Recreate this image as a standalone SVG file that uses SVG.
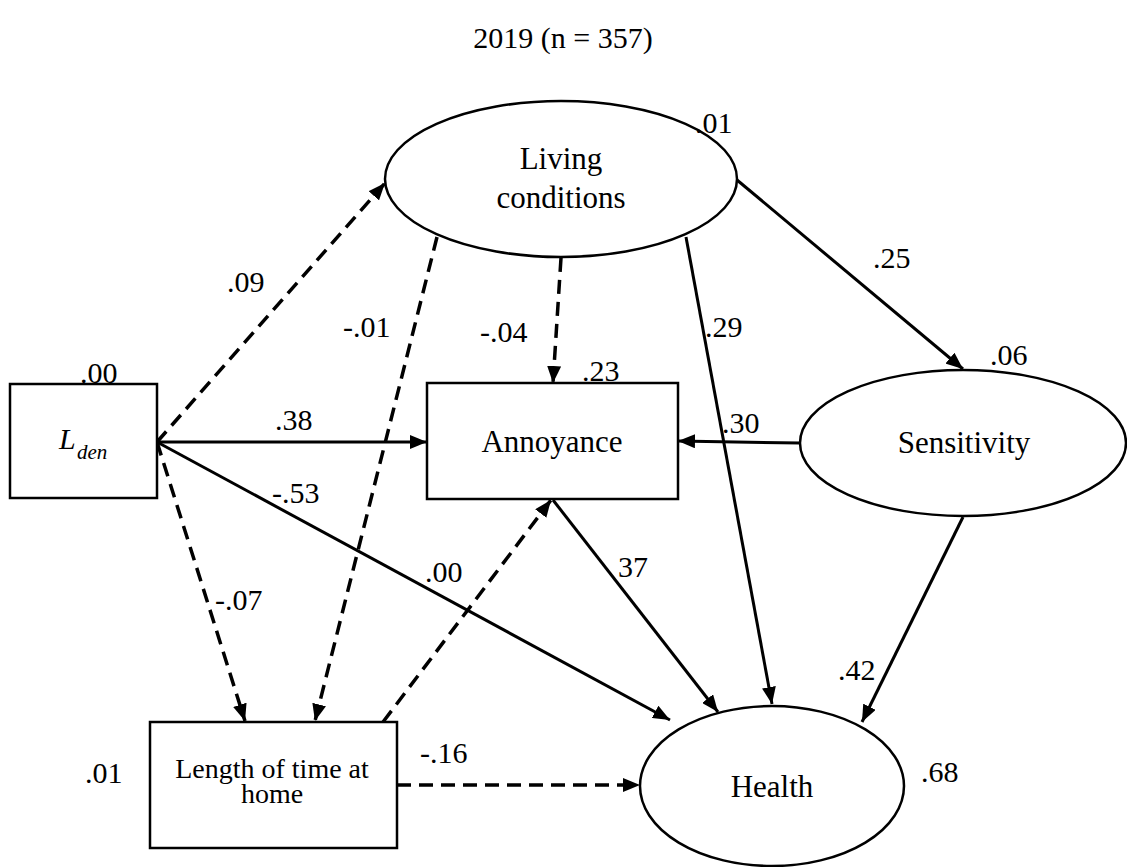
<svg xmlns="http://www.w3.org/2000/svg" width="1127" height="867" viewBox="0 0 1127 867">
<defs>
<style>
.node{fill:#fff;stroke:#000;stroke-width:2.5}
.nt{font-size:31px;text-anchor:middle}
.lbl{font-size:30px}
.c{fill:none;stroke:#000;stroke-width:3;marker-end:url(#ah)}
.d{stroke-dasharray:14 8;stroke-width:3.5}
</style>
<marker id="ah" markerUnits="userSpaceOnUse" markerWidth="18" markerHeight="14" refX="17" refY="7" orient="auto">
<path d="M0,0 L17,7 L0,14 Z" fill="#000"/>
</marker>
</defs>
<rect width="1127" height="867" fill="#fff"/>
<g font-family="'Liberation Serif', 'DejaVu Serif', 'Times New Roman', serif" fill="#000">
<text x="563" y="48" font-size="30" text-anchor="middle">2019 (n = 357)</text>

<g id="connectors">
<line class="c d" x1="157" y1="442" x2="385" y2="183"/>
<line class="c" x1="157" y1="442" x2="427" y2="442"/>
<line class="c" x1="157" y1="442" x2="670" y2="720"/>
<line class="c d" x1="157" y1="442" x2="245" y2="721"/>
<line class="c d" x1="437" y1="237" x2="315" y2="721"/>
<line class="c d" x1="561" y1="258" x2="553" y2="383"/>
<line class="c" x1="686" y1="237" x2="772" y2="704"/>
<line class="c" x1="737" y1="180" x2="963" y2="369"/>
<line class="c" x1="800" y1="443" x2="678" y2="441"/>
<line class="c" x1="963" y1="517" x2="862" y2="722"/>
<line class="c" x1="553" y1="500" x2="718" y2="712"/>
<line class="c d" x1="383" y1="722" x2="551" y2="500"/>
<line class="c d" x1="397" y1="785" x2="640" y2="785"/>
</g>

<g id="living">
<ellipse class="node" cx="561" cy="179" rx="176" ry="78" stroke-width="2"/>
<text class="nt" x="561" y="169">Living</text>
<text class="nt" x="561" y="208">conditions</text>
</g>
<g id="lden">
<rect class="node" x="10" y="384" width="147" height="114"/>
<text x="59" y="449" font-size="30" font-style="italic">L</text>
<text x="77" y="459" font-size="21" font-style="italic">den</text>
</g>
<g id="annoyance">
<rect class="node" x="427" y="383" width="251" height="116"/>
<text class="nt" x="552" y="452">Annoyance</text>
</g>
<g id="sensitivity">
<ellipse class="node" cx="963" cy="443" rx="163" ry="73" stroke-width="2"/>
<text class="nt" x="964" y="453">Sensitivity</text>
</g>
<g id="length">
<rect class="node" x="150" y="722" width="247" height="126"/>
<text x="272" y="778" font-size="28" text-anchor="middle">Length of time at</text>
<text x="272" y="803" font-size="28" text-anchor="middle">home</text>
</g>
<g id="health">
<ellipse class="node" cx="772" cy="786" rx="132" ry="80" stroke-width="2"/>
<text class="nt" x="772" y="797">Health</text>
</g>

<g id="labels">
<text class="lbl" x="695" y="133">.01</text>
<text class="lbl" x="80" y="383">.00</text>
<text class="lbl" x="582" y="381">.23</text>
<text class="lbl" x="990" y="365">.06</text>
<text class="lbl" x="85" y="783">.01</text>
<text class="lbl" x="921" y="782">.68</text>
<text class="lbl" x="227" y="292">.09</text>
<text class="lbl" x="343" y="337">-.01</text>
<text class="lbl" x="480" y="342">-.04</text>
<text class="lbl" x="705" y="337">.29</text>
<text class="lbl" x="873" y="268">.25</text>
<text class="lbl" x="275" y="430">.38</text>
<text class="lbl" x="722" y="433">.30</text>
<text class="lbl" x="272" y="503">-.53</text>
<text class="lbl" x="425" y="582">.00</text>
<text class="lbl" x="618" y="577">37</text>
<text class="lbl" x="215" y="610">-.07</text>
<text class="lbl" x="838" y="680">.42</text>
<text class="lbl" x="420" y="763">-.16</text>
</g>
</g>
</svg>
